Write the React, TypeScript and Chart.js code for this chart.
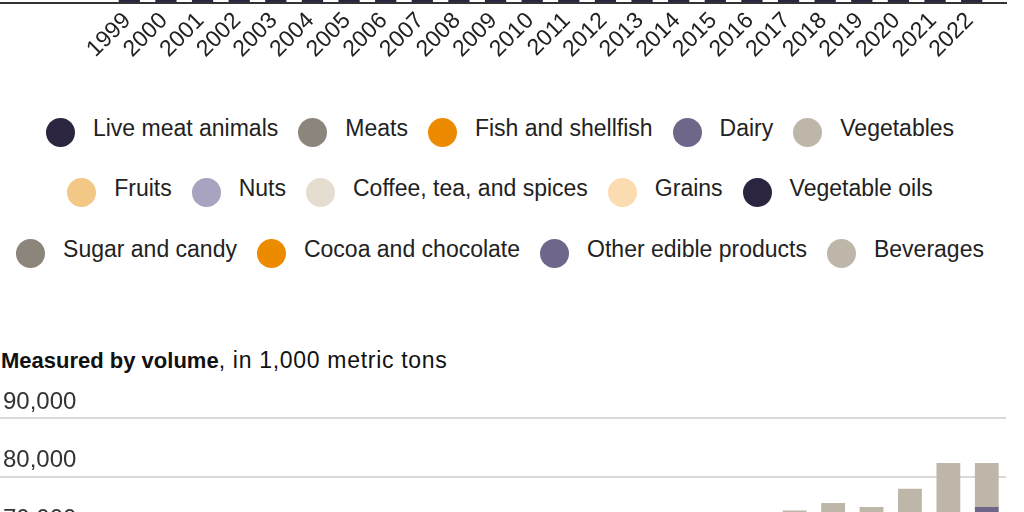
import React, { useEffect, useRef } from "react";
import { Chart, registerables } from "chart.js";

Chart.register(...registerables);

const FONT = '"Liberation Sans", Arial, Helvetica, sans-serif';

const YEARS = [
  "1999", "2000", "2001", "2002", "2003", "2004", "2005", "2006",
  "2007", "2008", "2009", "2010", "2011", "2012", "2013", "2014",
  "2015", "2016", "2017", "2018", "2019", "2020", "2021", "2022",
];

const CATEGORIES = [
  "Live meat animals",
  "Meats",
  "Fish and shellfish",
  "Dairy",
  "Vegetables",
  "Fruits",
  "Nuts",
  "Coffee, tea, and spices",
  "Grains",
  "Vegetable oils",
  "Sugar and candy",
  "Cocoa and chocolate",
  "Other edible products",
  "Beverages",
];

const COLORS = [
  "#2b2540",
  "#8c857c",
  "#ed8b00",
  "#6f6789",
  "#bfb6aa",
  "#f3c785",
  "#a7a3c0",
  "#e6ddd1",
  "#fbdcb0",
  "#2b2540",
  "#8c857c",
  "#ed8b00",
  "#6f6789",
  "#bfb6aa",
];

// Measured by value, billions of dollars (only the lowest band is in view)
const VALUE_LIVE_MEAT_ANIMALS = [1.6, 1.7, 2.2, 2.1, 1.6, 1.0, 1.3, 2.0, 2.4, 2.4, 1.9, 2.3, 2.3, 2.5, 2.5, 3.3, 3.0, 2.2, 2.3, 2.4, 2.6, 2.7, 3.0, 3.6];
const VALUE_MEATS = [2.9, 3.3, 3.8, 3.9, 4.2, 4.6, 5.1, 4.9, 4.7, 4.4, 4.2, 4.5, 4.9, 5.3, 5.6, 7.7, 8.9, 7.6, 7.9, 7.7, 8.1, 9.5, 10.2, 12.1];
const VALUE_FISH = [9.2, 10.1, 10.3, 10.1, 11.1, 11.3, 12.0, 13.1, 13.5, 14.0, 13.1, 14.7, 16.6, 16.8, 18.0, 20.2, 18.8, 19.6, 21.3, 22.4, 22.0, 21.6, 27.3, 30.1];
const VALUE_DAIRY = [1.4, 1.5, 1.6, 1.7, 1.9, 2.2, 2.5, 2.8, 2.9, 2.7, 2.4, 2.5, 2.8, 3.0, 3.1, 3.2, 3.3, 3.2, 3.4, 3.6, 3.8, 3.9, 4.2, 4.9];
const VALUE_VEGETABLES = [4.6, 4.8, 5.2, 5.5, 6.1, 6.7, 7.4, 8.1, 8.8, 9.1, 9.3, 10.3, 11.2, 11.5, 12.6, 13.5, 14.2, 15.3, 16.6, 17.9, 18.8, 19.7, 21.8, 23.2];
const VALUE_FRUITS = [3.9, 3.9, 4.2, 4.6, 5.1, 5.4, 6.0, 6.7, 7.4, 8.1, 8.2, 9.0, 10.0, 11.0, 11.9, 12.9, 13.8, 14.6, 15.3, 16.4, 17.2, 18.3, 20.6, 22.1];
const VALUE_NUTS = [0.5, 0.5, 0.5, 0.6, 0.7, 0.8, 1.0, 1.2, 1.3, 1.3, 1.2, 1.4, 1.7, 1.8, 2.0, 2.3, 2.4, 2.3, 2.5, 2.6, 2.7, 2.7, 3.1, 3.3];
const VALUE_COFFEE = [3.6, 3.3, 2.5, 2.5, 2.8, 3.0, 3.7, 4.1, 4.5, 5.0, 4.8, 5.7, 7.9, 7.3, 6.4, 7.1, 7.6, 7.3, 7.6, 7.4, 7.2, 7.4, 8.6, 11.0];
const VALUE_GRAINS = [2.0, 2.2, 2.4, 2.6, 2.9, 3.1, 3.4, 3.8, 4.3, 5.3, 5.2, 5.5, 6.2, 6.7, 7.1, 7.6, 8.0, 8.3, 8.7, 9.1, 9.6, 10.2, 11.6, 13.7];
const VALUE_VEG_OILS = [1.3, 1.2, 1.1, 1.2, 1.5, 1.8, 2.0, 2.3, 2.9, 4.4, 3.3, 3.8, 5.6, 5.7, 5.6, 5.8, 5.7, 5.8, 6.2, 6.3, 6.0, 6.3, 9.6, 12.6];
const VALUE_SUGAR = [1.2, 1.2, 1.3, 1.4, 1.5, 1.5, 1.9, 2.3, 2.1, 2.3, 2.5, 3.1, 3.8, 3.9, 3.4, 3.5, 3.3, 3.2, 3.2, 3.3, 3.3, 3.4, 3.7, 4.5];
const VALUE_COCOA = [1.5, 1.4, 1.5, 1.8, 2.4, 2.4, 2.5, 2.6, 2.7, 3.2, 3.4, 4.2, 4.6, 4.0, 4.2, 5.1, 5.5, 5.2, 4.9, 4.9, 4.9, 5.0, 5.2, 5.4];
const VALUE_OTHER = [3.4, 3.6, 3.8, 4.1, 4.5, 4.9, 5.3, 5.7, 6.2, 7.0, 6.8, 7.4, 8.3, 8.9, 9.4, 10.2, 10.9, 11.4, 12.0, 12.8, 13.7, 14.6, 16.9, 19.3];
const VALUE_BEVERAGES = [6.2, 6.9, 7.2, 7.8, 8.6, 9.3, 10.1, 11.3, 12.2, 12.0, 11.0, 12.2, 13.0, 14.1, 14.9, 16.0, 16.9, 17.5, 18.9, 20.0, 20.8, 20.3, 25.3, 27.8];

// Measured by volume, 1,000 metric tons
const VOL_LIVE_MEAT_ANIMALS = [900, 920, 940, 960, 980, 700, 720, 850, 900, 950, 880, 900, 920, 930, 950, 980, 990, 1000, 1020, 1060, 1100, 1080, 1120, 1150];
const VOL_MEATS = [1500, 1550, 1600, 1650, 1700, 1750, 1700, 1650, 1600, 1500, 1450, 1400, 1350, 1400, 1450, 1700, 1900, 1850, 1850, 1900, 1950, 2000, 2150, 2050];
const VOL_FISH = [2000, 2050, 2150, 2250, 2350, 2400, 2450, 2500, 2500, 2450, 2450, 2550, 2600, 2600, 2650, 2700, 2750, 2850, 2900, 2950, 2900, 2950, 3150, 3050];
const VOL_DAIRY = [450, 460, 470, 480, 490, 500, 510, 520, 500, 480, 460, 470, 480, 500, 520, 560, 600, 620, 640, 650, 660, 680, 700, 720];
const VOL_VEGETABLES = [5200, 5400, 5600, 5900, 6200, 6500, 6700, 7000, 7300, 7300, 7400, 7700, 8000, 8300, 8600, 8900, 9100, 9300, 9500, 9800, 10100, 10500, 10900, 11200];
const VOL_FRUITS = [7800, 8000, 8100, 8300, 8500, 8700, 8900, 9200, 9400, 9300, 9300, 9600, 9900, 10200, 10500, 10900, 11200, 11500, 11800, 12000, 12200, 12500, 12900, 13100];
const VOL_NUTS = [250, 260, 270, 280, 290, 300, 310, 320, 330, 330, 330, 350, 360, 370, 390, 410, 420, 440, 450, 460, 470, 480, 500, 520];
const VOL_COFFEE = [1600, 1650, 1650, 1700, 1700, 1750, 1750, 1800, 1850, 1850, 1850, 1900, 1950, 1950, 2000, 2050, 2100, 2150, 2150, 2200, 2200, 2250, 2300, 2350];
const VOL_GRAINS = [4500, 4700, 4900, 5100, 5300, 5500, 5700, 6000, 6300, 6400, 6500, 6900, 7200, 8200, 8500, 9400, 9600, 9800, 10100, 10200, 9600, 10300, 11100, 11400];
const VOL_VEG_OILS = [1800, 1900, 2000, 2100, 2200, 2400, 2600, 2900, 3100, 3200, 3100, 3300, 3600, 3900, 4300, 4800, 5300, 5700, 6000, 6100, 5900, 6300, 7000, 7300];
const VOL_SUGAR = [2300, 2400, 2400, 2500, 2600, 2700, 3300, 3500, 3000, 3200, 3300, 3500, 3600, 3700, 3900, 3800, 3900, 3850, 3900, 3950, 3900, 4000, 4100, 4300];
const VOL_COCOA = [850, 870, 890, 910, 930, 950, 970, 990, 1010, 1000, 990, 1050, 1080, 1110, 1150, 1190, 1220, 1250, 1280, 1300, 1330, 1350, 1400, 1450];
const VOL_OTHER = [8500, 8900, 9300, 9700, 10100, 10500, 10900, 11300, 11700, 11500, 11300, 11800, 12300, 12800, 13300, 13900, 14400, 14800, 15070, 15150, 14830, 15660, 16410, 16250];
const VOL_BEVERAGES = [4300, 4500, 4600, 4800, 5000, 5200, 5500, 5800, 5900, 5700, 5500, 5700, 5900, 6100, 6300, 6700, 7000, 7300, 7600, 7800, 7700, 7900, 8600, 7490];

const VALUE_SERIES = [
  VALUE_LIVE_MEAT_ANIMALS, VALUE_MEATS, VALUE_FISH, VALUE_DAIRY, VALUE_VEGETABLES,
  VALUE_FRUITS, VALUE_NUTS, VALUE_COFFEE, VALUE_GRAINS, VALUE_VEG_OILS,
  VALUE_SUGAR, VALUE_COCOA, VALUE_OTHER, VALUE_BEVERAGES,
];

const VOLUME_SERIES = [
  VOL_LIVE_MEAT_ANIMALS, VOL_MEATS, VOL_FISH, VOL_DAIRY, VOL_VEGETABLES,
  VOL_FRUITS, VOL_NUTS, VOL_COFFEE, VOL_GRAINS, VOL_VEG_OILS,
  VOL_SUGAR, VOL_COCOA, VOL_OTHER, VOL_BEVERAGES,
];

const VALUE_MAX = 200;
const VALUE_STEP = 50;
const VOLUME_MAX = 90000;
const VOLUME_STEP = 10000;

const LEGEND_ROWS = [
  [0, 1, 2, 3, 4],
  [5, 6, 7, 8, 9],
  [10, 11, 12, 13],
];

function baselinePlugin(x0: number, x1: number) {
  return {
    id: "baseline",
    afterDatasetsDraw(chart: any) {
      const y = Math.round(chart.scales.y.getPixelForValue(0));
      const ctx = chart.ctx;
      ctx.save();
      ctx.strokeStyle = "#333333";
      ctx.lineWidth = 2;
      ctx.beginPath();
      ctx.moveTo(x0, y);
      ctx.lineTo(x1, y);
      ctx.stroke();
      ctx.restore();
    },
  };
}

function makeConfig(
  series: number[][],
  max: number,
  step: number,
  axisWidth: number,
  padRight: number,
  barPct: number,
  fmt: (v: number) => string,
  lineEnd: number
): any {
  return {
    type: "bar",
    data: {
      labels: YEARS,
      datasets: CATEGORIES.map((c, i) => ({
        label: c,
        data: series[i],
        backgroundColor: COLORS[i],
        borderWidth: 0,
        barPercentage: barPct,
        categoryPercentage: 1,
      })),
    },
    options: {
      responsive: false,
      maintainAspectRatio: false,
      animation: false,
      layout: { padding: { top: 30, left: 3, right: padRight, bottom: 0 } },
      plugins: { legend: { display: false }, tooltip: { enabled: false }, title: { display: false } },
      scales: {
        x: {
          stacked: true,
          offset: true,
          grid: { display: false, drawTicks: false },
          border: { display: false },
          ticks: {
            autoSkip: false,
            minRotation: 45,
            maxRotation: 45,
            padding: 4,
            labelOffset: -2,
            color: "#222222",
            font: { family: FONT, size: 23 },
          },
        },
        y: {
          stacked: true,
          min: 0,
          max,
          afterFit: (s: any) => {
            s.width = axisWidth - 3;
          },
          border: { display: false },
          grid: { color: "#d9d9d9", lineWidth: 2, drawTicks: true, tickLength: axisWidth },
          ticks: {
            stepSize: step,
            crossAlign: "far",
            labelOffset: -16,
            padding: 0,
            color: "#333333",
            font: { family: FONT, size: 24 },
            callback: (v: any) => fmt(Number(v)),
          },
        },
      },
    },
    plugins: [baselinePlugin(0, lineEnd)],
  };
}

export default function App() {
  const topWrap = useRef<HTMLDivElement>(null);
  const topCanvas = useRef<HTMLCanvasElement>(null);
  const botWrap = useRef<HTMLDivElement>(null);
  const botCanvas = useRef<HTMLCanvasElement>(null);

  useEffect(() => {
    document.body.style.margin = "0";
    const top = new Chart(
      topCanvas.current as HTMLCanvasElement,
      makeConfig(VALUE_SERIES, VALUE_MAX, VALUE_STEP, 111, 34, 0.58, (v) => `$${v}B`, 1007)
    );
    const zero = Math.round(top.scales.y.getPixelForValue(0));
    if (topWrap.current) topWrap.current.style.top = `${3 - zero}px`;

    const bot = new Chart(
      botCanvas.current as HTMLCanvasElement,
      makeConfig(VOLUME_SERIES, VOLUME_MAX, VOLUME_STEP, 84, 18, 0.62, (v) => v.toLocaleString("en-US"), 1008)
    );
    const span = bot.chartArea.bottom - bot.chartArea.top;
    const want = 528;
    if (Math.abs(span - want) > 0.5) bot.resize(1024, Math.round(bot.height + want - span));
    const y90 = bot.scales.y.getPixelForValue(VOLUME_MAX);
    if (botWrap.current) botWrap.current.style.top = `${Math.round(418 - y90)}px`;

    return () => {
      top.destroy();
      bot.destroy();
    };
  }, []);

  return (
    <div
      style={{
        position: "fixed",
        left: 0,
        top: 0,
        width: 1024,
        height: 512,
        overflow: "hidden",
        background: "#ffffff",
        fontFamily: FONT,
        color: "#222222",
      }}
    >
      <div ref={topWrap} style={{ position: "absolute", left: 0, top: -720, width: 1024, height: 800 }}>
        <canvas ref={topCanvas} width={1024} height={800} style={{ display: "block" }} />
      </div>

      <div style={{ position: "absolute", left: 0, top: 117.5, width: 1000 }}>
        {LEGEND_ROWS.map((row, r) => (
          <div
            key={r}
            style={{
              display: "flex",
              justifyContent: "center",
              alignItems: "flex-start",
              height: 30,
              marginBottom: 30.8,
            }}
          >
            {row.map((i, k) => (
              <div key={i} style={{ display: "flex", alignItems: "flex-start", marginLeft: k ? 20 : 0 }}>
                <span
                  style={{
                    display: "block",
                    width: 29,
                    height: 29,
                    borderRadius: "50%",
                    background: COLORS[i],
                    marginRight: 18,
                    flex: "none",
                  }}
                />
                <span
                  style={{
                    fontSize: 23,
                    lineHeight: "30px",
                    position: "relative",
                    top: -5,
                    whiteSpace: "nowrap",
                    color: "#222222",
                  }}
                >
                  {CATEGORIES[i]}
                </span>
              </div>
            ))}
          </div>
        ))}
      </div>

      <div
        style={{
          position: "absolute",
          left: 1,
          top: 345.5,
          fontSize: 23,
          lineHeight: "28px",
          whiteSpace: "nowrap",
          color: "#111111",
        }}
      >
        <b style={{ fontSize: 22 }}>Measured by volume</b>
        <span style={{ letterSpacing: 0.7 }}>, in 1,000 metric tons</span>
      </div>

      <div ref={botWrap} style={{ position: "absolute", left: 0, top: 388, width: 1024, height: 640 }}>
        <canvas ref={botCanvas} width={1024} height={640} style={{ display: "block" }} />
      </div>
    </div>
  );
}
